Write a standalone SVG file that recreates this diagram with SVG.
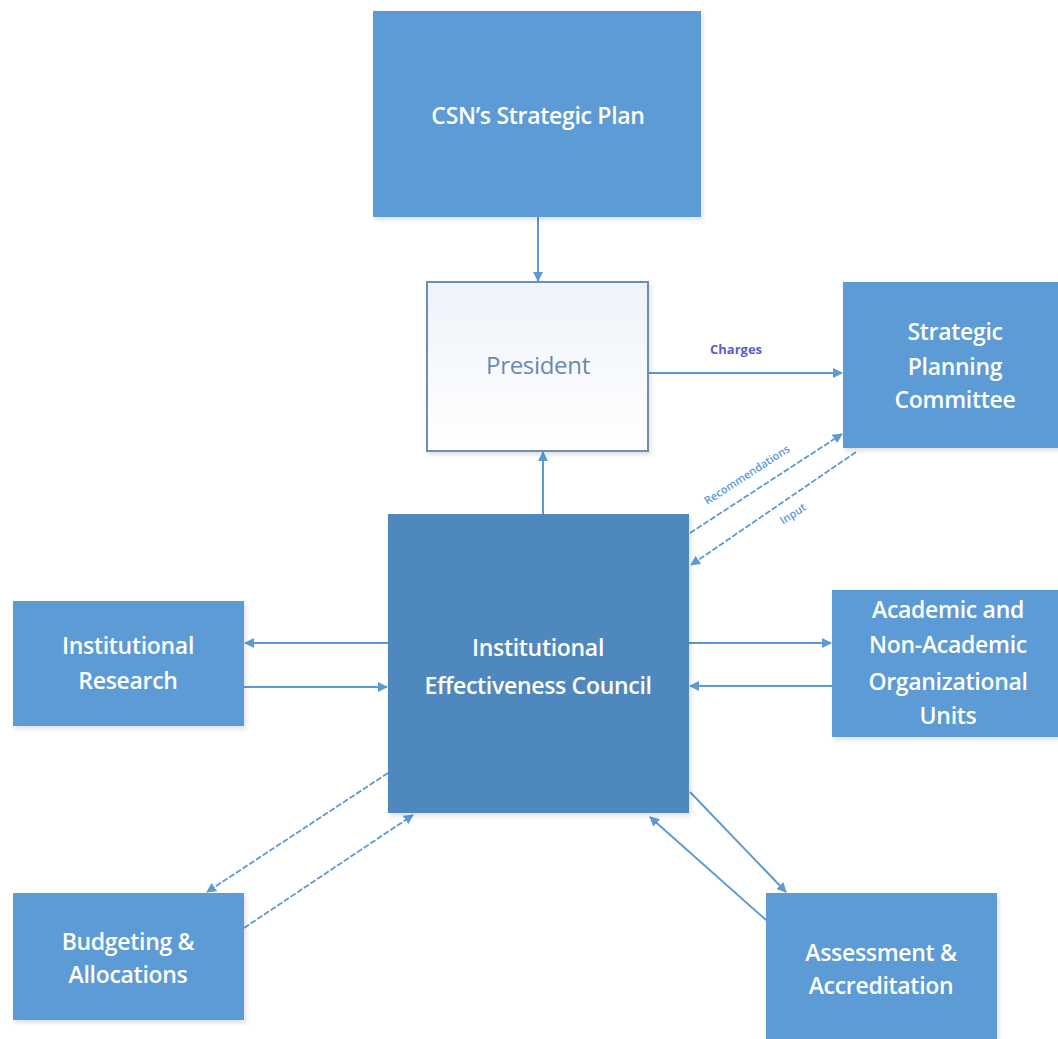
<svg xmlns="http://www.w3.org/2000/svg" width="1058" height="1039" viewBox="0 0 1058 1039">
<defs>
<style>
.box{fill:#5b9bd5;}
.dark{fill:#4f88bf;}
.t{font-family:"Open Sans","Noto Sans",sans-serif;font-size:23px;font-weight:600;fill:#ffffff;text-anchor:middle;letter-spacing:-0.3px;}
.ln{stroke:#5b9bd5;stroke-width:2;fill:none;}
.dl{stroke:#5b9bd5;stroke-width:1.8;fill:none;stroke-dasharray:6 2;}
.lbl{font-family:"Open Sans","Noto Sans",sans-serif;fill:#5b9bd5;text-anchor:middle;font-weight:600;}
</style>
<marker id="ah" viewBox="0 0 10 10" refX="9" refY="5" markerWidth="10" markerHeight="10" markerUnits="userSpaceOnUse" orient="auto">
<path d="M0,0 L10,5 L0,10 z" fill="#5b9bd5"/>
</marker>
<linearGradient id="pg" x1="0" y1="0" x2="0" y2="1">
<stop offset="0" stop-color="#eef3fa"/>
<stop offset="1" stop-color="#ffffff"/>
</linearGradient>
<filter id="sh" x="-5%" y="-5%" width="115%" height="115%">
<feDropShadow dx="2" dy="3" stdDeviation="2" flood-color="#000" flood-opacity="0.12"/>
</filter>
</defs>
<rect width="1058" height="1039" fill="#ffffff"/>
<g id="connectors">
<line class="ln" x1="538" y1="217" x2="538" y2="281" marker-end="url(#ah)"/>
<line class="ln" x1="649" y1="373" x2="842" y2="373" marker-end="url(#ah)"/>
<text x="736" y="354" font-size="13" font-weight="bold" text-anchor="middle" font-family="Open Sans, Noto Sans, sans-serif" fill="#5b5bd6">Charges</text>
<line class="dl" x1="690" y1="533" x2="842" y2="434" marker-end="url(#ah)"/>
<text class="lbl" font-size="11" transform="translate(749,478) rotate(-33)">Recommendations</text>
<line class="dl" x1="856" y1="452" x2="691" y2="565" marker-end="url(#ah)"/>
<text class="lbl" font-size="11" transform="translate(795,517) rotate(-33)">Input</text>
<line class="ln" x1="543" y1="514" x2="543" y2="452" marker-end="url(#ah)"/>
<line class="ln" x1="388" y1="643" x2="245" y2="643" marker-end="url(#ah)"/>
<line class="ln" x1="244" y1="687" x2="387" y2="687" marker-end="url(#ah)"/>
<line class="ln" x1="689" y1="643" x2="831" y2="643" marker-end="url(#ah)"/>
<line class="ln" x1="832" y1="686" x2="690" y2="686" marker-end="url(#ah)"/>
<line class="dl" x1="388" y1="773" x2="207" y2="892" marker-end="url(#ah)"/>
<line class="dl" x1="244" y1="928" x2="413" y2="815" marker-end="url(#ah)"/>
<line class="ln" x1="690" y1="792" x2="786" y2="892" marker-end="url(#ah)"/>
<line class="ln" x1="766" y1="920" x2="650" y2="817" marker-end="url(#ah)"/>
</g>
<g id="csn-plan">
<rect class="box" x="373" y="11" width="328" height="206" filter="url(#sh)"/>
<text class="t" x="538" y="124">CSN’s Strategic Plan</text>
</g>
<g id="president">
<rect x="427" y="282" width="221" height="169" fill="url(#pg)" stroke="#6c8db5" stroke-width="2" filter="url(#sh)"/>
<text class="t" x="538" y="374" style="fill:#6b89ad;font-size:24px;font-weight:400">President</text>
</g>
<g id="spc">
<rect class="box" x="843" y="282" width="230" height="166" filter="url(#sh)"/>
<text class="t" x="955" y="340">Strategic</text>
<text class="t" x="955" y="375">Planning</text>
<text class="t" x="955" y="408">Committee</text>
</g>
<g id="iec">
<rect class="dark" x="388" y="514" width="301" height="299" filter="url(#sh)"/>
<text class="t" x="538" y="656">Institutional</text>
<text class="t" x="538" y="694">Effectiveness Council</text>
</g>
<g id="ir">
<rect class="box" x="13" y="601" width="231" height="125" filter="url(#sh)"/>
<text class="t" x="128" y="654">Institutional</text>
<text class="t" x="128" y="689">Research</text>
</g>
<g id="units">
<rect class="box" x="832" y="590" width="236" height="147" filter="url(#sh)"/>
<text class="t" x="948" y="618">Academic and</text>
<text class="t" x="948" y="653">Non-Academic</text>
<text class="t" x="948" y="690">Organizational</text>
<text class="t" x="948" y="724">Units</text>
</g>
<g id="budget">
<rect class="box" x="13" y="893" width="231" height="127" filter="url(#sh)"/>
<text class="t" x="128" y="950">Budgeting &amp;</text>
<text class="t" x="128" y="983">Allocations</text>
</g>
<g id="assess">
<rect class="box" x="766" y="893" width="231" height="160" filter="url(#sh)"/>
<text class="t" x="881" y="961">Assessment &amp;</text>
<text class="t" x="881" y="994">Accreditation</text>
</g>
</svg>
